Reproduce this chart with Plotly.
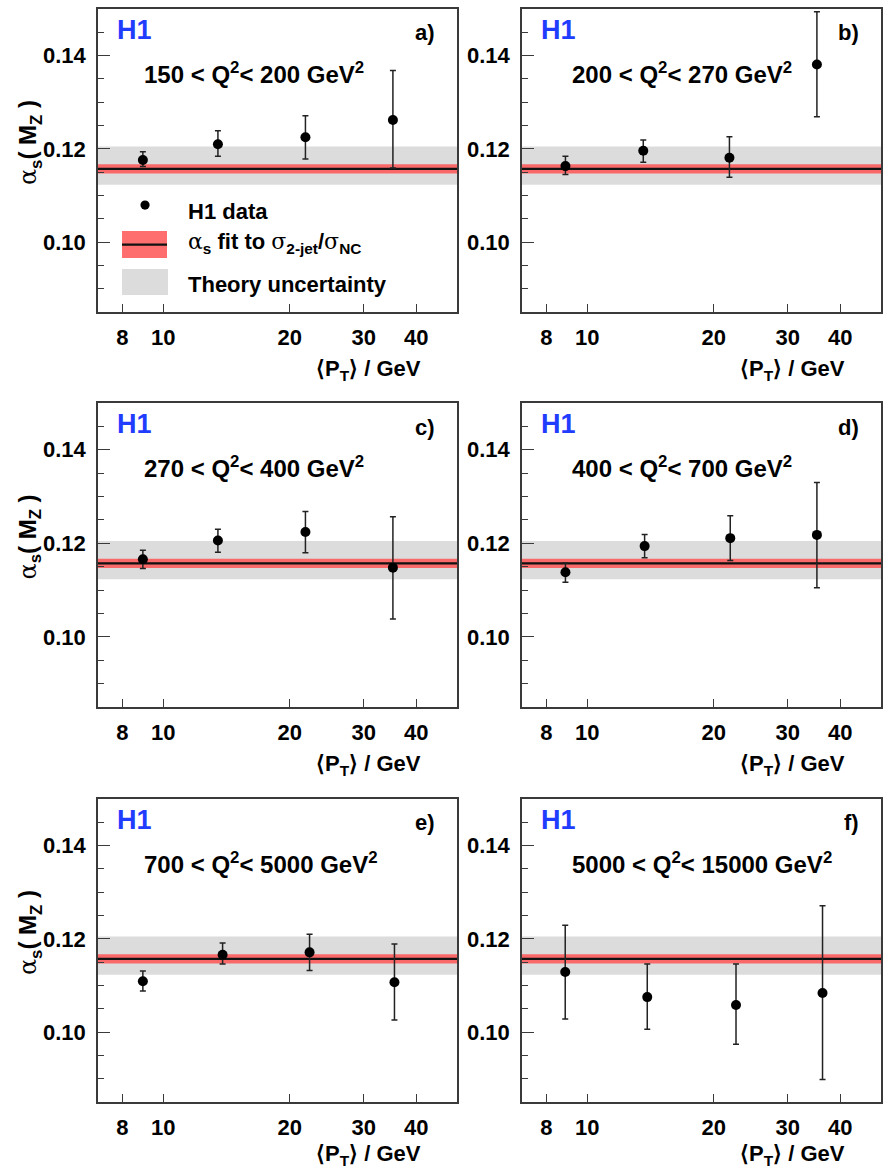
import math
import plotly.graph_objects as go

# <P_T> bin centres (GeV) and alpha_s(M_Z) extracted per bin, one list per Q^2 range
q2_labels = [
    "150 < Q<sup>2</sup>< 200 GeV<sup>2</sup>",
    "200 < Q<sup>2</sup>< 270 GeV<sup>2</sup>",
    "270 < Q<sup>2</sup>< 400 GeV<sup>2</sup>",
    "400 < Q<sup>2</sup>< 700 GeV<sup>2</sup>",
    "700 < Q<sup>2</sup>< 5000 GeV<sup>2</sup>",
    "5000 < Q<sup>2</sup>< 15000 GeV<sup>2</sup>",
]
panel_tags = ["a)", "b)", "c)", "d)", "e)", "f)"]

pt_a = [8.95, 13.5, 21.8, 35.2]
alpha_a = [0.1176, 0.1210, 0.1225, 0.1262]
err_up_a = [0.0018, 0.0029, 0.0046, 0.0106]
err_dn_a = [0.0014, 0.0026, 0.0047, 0.0103]

pt_b = [8.88, 13.6, 21.8, 35.2]
alpha_b = [0.1163, 0.1196, 0.1181, 0.1381]
err_up_b = [0.0021, 0.0023, 0.0045, 0.0113]
err_dn_b = [0.0018, 0.0025, 0.0042, 0.0112]

pt_c = [8.95, 13.5, 21.8, 35.2]
alpha_c = [0.1166, 0.1206, 0.1224, 0.1148]
err_up_c = [0.0019, 0.0024, 0.0044, 0.0109]
err_dn_c = [0.0020, 0.0025, 0.0044, 0.0110]

pt_d = [8.88, 13.7, 21.9, 35.2]
alpha_d = [0.1138, 0.1194, 0.1211, 0.1218]
err_up_d = [0.0020, 0.0025, 0.0048, 0.0112]
err_dn_d = [0.0021, 0.0025, 0.0048, 0.0113]

pt_e = [8.95, 13.85, 22.3, 35.5]
alpha_e = [0.1109, 0.1166, 0.1171, 0.1107]
err_up_e = [0.0022, 0.0025, 0.0039, 0.0082]
err_dn_e = [0.0021, 0.0020, 0.0039, 0.0081]

pt_f = [8.87, 13.9, 22.6, 36.3]
alpha_f = [0.1129, 0.1075, 0.1058, 0.1084]
err_up_f = [0.0100, 0.0071, 0.0088, 0.0187]
err_dn_f = [0.0101, 0.0069, 0.0084, 0.0186]

# Combined fit to sigma_2-jet / sigma_NC and its uncertainties
fit_value = 0.1157
fit_exp_err = 0.0010
theory_up = 0.0048
theory_dn = 0.0034

panels = [
    (pt_a, alpha_a, err_up_a, err_dn_a),
    (pt_b, alpha_b, err_up_b, err_dn_b),
    (pt_c, alpha_c, err_up_c, err_dn_c),
    (pt_d, alpha_d, err_up_d, err_dn_d),
    (pt_e, alpha_e, err_up_e, err_dn_e),
    (pt_f, alpha_f, err_up_f, err_dn_f),
]

x_range = [7.0, 50.0]
y_range = [0.085, 0.150]
x_ticks = [8, 10, 20, 30, 40]
y_ticks = [0.10, 0.12, 0.14]

W, H = 883, 1171
col_px = [(98, 457), (522, 881)]
row_px = [(9, 312), (403, 707), (799, 1102)]

FONT = "Liberation Sans"
frame_col = "#3a3a3a"
band_grey = "#dcdcdc"
band_red = "rgba(255,85,85,0.85)"
h1_blue = "#1f3cff"
greek = "<span style=\"font-family:'DejaVu Serif';font-weight:normal\">{}</span>"

fig = go.Figure()
annotations = []
shapes = []

for i, (pt, alpha, eu, ed) in enumerate(panels):
    r, c = divmod(i, 2)
    n = i + 1
    xa = "x" if n == 1 else f"x{n}"
    ya = "y" if n == 1 else f"y{n}"
    xkey = "xaxis" if n == 1 else f"xaxis{n}"
    ykey = "yaxis" if n == 1 else f"yaxis{n}"

    x0, x1 = col_px[c]
    t0, b0 = row_px[r]
    fig.update_layout(**{
        xkey: dict(
            domain=[x0 / W, x1 / W], anchor=ya, type="log",
            range=[math.log10(x_range[0]), math.log10(x_range[1])],
            tickvals=x_ticks, ticktext=[str(v) for v in x_ticks],
            ticks="inside", ticklen=8, tickwidth=1.2, tickcolor=frame_col,
            showline=True, linecolor=frame_col, linewidth=1.6, mirror=True,
            showgrid=False, zeroline=False, ticklabelstandoff=5,
            tickfont=dict(family=FONT, size=22, color="black", weight="bold"),
        ),
        ykey: dict(
            domain=[1 - b0 / H, 1 - t0 / H], anchor=xa, range=y_range,
            tickvals=y_ticks, ticktext=[f"{v:.2f}" for v in y_ticks],
            ticks="inside", ticklen=12, tickwidth=1.2, tickcolor=frame_col,
            minor=dict(dtick=0.005, tick0=0.0, ticks="inside", ticklen=6,
                       tickwidth=1, tickcolor=frame_col, showgrid=False),
            showline=True, linecolor=frame_col, linewidth=1.6, mirror=True,
            showgrid=False, zeroline=False, ticklabelstandoff=6,
            tickfont=dict(family=FONT, size=22, color="black", weight="bold"),
        ),
    })

    # theory uncertainty band
    fig.add_trace(go.Scatter(
        x=[x_range[0], x_range[1], x_range[1], x_range[0], x_range[0]],
        y=[fit_value + theory_up, fit_value + theory_up,
           fit_value - theory_dn, fit_value - theory_dn, fit_value + theory_up],
        fill="toself", fillcolor=band_grey, mode="none",
        xaxis=xa, yaxis=ya, showlegend=False, hoverinfo="skip"))
    # experimental band of the fit
    fig.add_trace(go.Scatter(
        x=[x_range[0], x_range[1], x_range[1], x_range[0], x_range[0]],
        y=[fit_value + fit_exp_err, fit_value + fit_exp_err,
           fit_value - fit_exp_err, fit_value - fit_exp_err, fit_value + fit_exp_err],
        fill="toself", fillcolor=band_red, mode="none",
        xaxis=xa, yaxis=ya, showlegend=False, hoverinfo="skip"))
    # central fit value
    fig.add_trace(go.Scatter(
        x=x_range, y=[fit_value, fit_value], mode="lines",
        line=dict(color="#111111", width=2.2),
        xaxis=xa, yaxis=ya, showlegend=False, hoverinfo="skip"))
    # H1 data points
    fig.add_trace(go.Scatter(
        x=pt, y=alpha, mode="markers",
        marker=dict(color="black", size=10),
        error_y=dict(type="data", symmetric=False, array=eu, arrayminus=ed,
                     color="#222222", thickness=1.5, width=3),
        xaxis=xa, yaxis=ya, showlegend=False, cliponaxis=False))

    xd = f"{xa} domain"
    yd = f"{ya} domain"
    annotations.append(dict(
        text="<b>H1</b>", x=0.103, y=0.93, xref=xd, yref=yd,
        xanchor="center", yanchor="middle", showarrow=False,
        font=dict(family=FONT, size=27, color=h1_blue)))
    annotations.append(dict(
        text=f"<b>{panel_tags[i]}</b>", x=0.944, y=0.921, xref=xd, yref=yd,
        xanchor="right", yanchor="middle", showarrow=False,
        font=dict(family=FONT, size=22, color="black")))
    annotations.append(dict(
        text=f"<b>{q2_labels[i]}</b>", x=0.1226 if c == 0 else 0.134, y=0.789,
        xref=xd, yref=yd, xanchor="left", yanchor="middle", showarrow=False,
        font=dict(family=FONT, size=24, color="black")))
    annotations.append(dict(
        text="<b>\u27e8P<sub>T</sub>\u27e9 / GeV</b>", x=0.905,
        y=-0.19 if r < 2 else -0.176,
        xref=xd, yref=yd, xanchor="right", yanchor="middle", showarrow=False,
        font=dict(family=FONT, size=22, color="black")))
    if c == 0:
        annotations.append(dict(
            text="<b>" + greek.format("\u03b1") + "<sub>s</sub>( M<sub>Z</sub> )</b>",
            x=-0.19, y=0.56, xref=xd, yref=yd, textangle=-90,
            xanchor="center", yanchor="middle", showarrow=False,
            font=dict(family=FONT, size=24, color="black")))

# legend drawn inside panel a
lx, ly = "x domain", "y domain"
shapes.append(dict(type="circle", xref=lx, yref=ly,
                   x0=0.131 - 0.0128, x1=0.131 + 0.0128,
                   y0=0.353 - 0.0152, y1=0.353 + 0.0152,
                   fillcolor="black", line=dict(width=0)))
shapes.append(dict(type="rect", xref=lx, yref=ly, x0=0.0669, x1=0.1922,
                   y0=0.178, y1=0.267, fillcolor=band_red, line=dict(width=0)))
shapes.append(dict(type="line", xref=lx, yref=ly, x0=0.0669, x1=0.1922,
                   y0=0.2225, y1=0.2225, line=dict(color="#111111", width=2.2)))
shapes.append(dict(type="rect", xref=lx, yref=ly, x0=0.0669, x1=0.195,
                   y0=0.056, y1=0.142, fillcolor=band_grey, line=dict(width=0)))
legend_rows = [
    ("<b>H1 data</b>", 0.333),
    ("<b>" + greek.format("\u03b1") + "<sub>s</sub> fit to " + greek.format("\u03c3")
     + "<sub>2-jet</sub>/" + greek.format("\u03c3") + "<sub>NC</sub></b>", 0.228),
    ("<b>Theory uncertainty</b>", 0.092),
]
for txt, yy in legend_rows:
    annotations.append(dict(
        text=txt, x=0.245, y=yy, xref=lx, yref=ly, xanchor="left",
        yanchor="middle", showarrow=False,
        font=dict(family=FONT, size=22, color="black")))

fig.update_layout(
    width=W, height=H, autosize=False,
    margin=dict(l=0, r=0, t=0, b=0),
    paper_bgcolor="white", plot_bgcolor="white",
    showlegend=False, annotations=annotations, shapes=shapes,
)

fig.write_html("out.html")
